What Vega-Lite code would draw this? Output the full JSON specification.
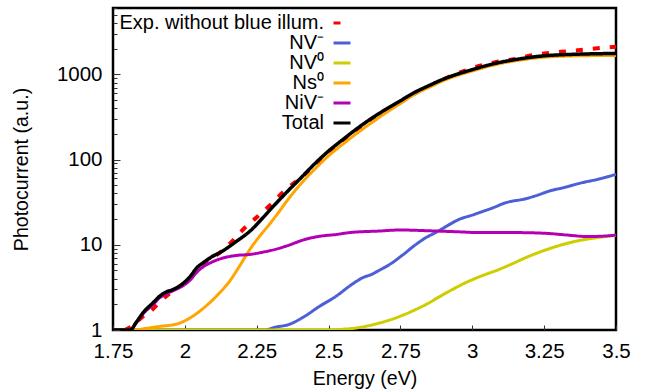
{
  "$schema": "https://vega.github.io/schema/vega-lite/v6.json",
  "width": 503,
  "height": 322,
  "autosize": {"type": "none"},
  "padding": {"left": 113, "top": 8, "right": 30, "bottom": 61},
  "background": "white",
  "config": {
    "view": {"stroke": "black", "strokeWidth": 2.5},
    "font": "Liberation Sans",
    "axis": {
      "labelFont": "Liberation Sans",
      "labelFontSize": 20.5,
      "labelColor": "black",
      "titleFont": "Liberation Sans",
      "titleFontSize": 19.6,
      "titleFontWeight": "normal",
      "titleColor": "black",
      "domain": false,
      "grid": false,
      "tickColor": "#333333",
      "tickWidth": 1,
      "labelFlush": false,
      "labelOverlap": false
    },
    "legend": {
      "labelFont": "Liberation Sans",
      "labelFontSize": 20,
      "labelColor": "black"
    }
  },
  "data": {
    "values": [
      {"s": "Exp. without blue illum.", "E": 1.79, "v": 1},
      {"s": "Exp. without blue illum.", "E": 1.81, "v": 1.08},
      {"s": "Exp. without blue illum.", "E": 1.83, "v": 1.22},
      {"s": "Exp. without blue illum.", "E": 1.85, "v": 1.4},
      {"s": "Exp. without blue illum.", "E": 1.88, "v": 1.65},
      {"s": "Exp. without blue illum.", "E": 1.92, "v": 2.25},
      {"s": "Exp. without blue illum.", "E": 1.96, "v": 2.9},
      {"s": "Exp. without blue illum.", "E": 2.0, "v": 3.6},
      {"s": "Exp. without blue illum.", "E": 2.04, "v": 5.0},
      {"s": "Exp. without blue illum.", "E": 2.08, "v": 6.6},
      {"s": "Exp. without blue illum.", "E": 2.12, "v": 8.0},
      {"s": "Exp. without blue illum.", "E": 2.16, "v": 10.6},
      {"s": "Exp. without blue illum.", "E": 2.2, "v": 14.8},
      {"s": "Exp. without blue illum.", "E": 2.25, "v": 21},
      {"s": "Exp. without blue illum.", "E": 2.3, "v": 30},
      {"s": "Exp. without blue illum.", "E": 2.35, "v": 44},
      {"s": "Exp. without blue illum.", "E": 2.4, "v": 60},
      {"s": "Exp. without blue illum.", "E": 2.45, "v": 83},
      {"s": "Exp. without blue illum.", "E": 2.5, "v": 118},
      {"s": "Exp. without blue illum.", "E": 2.55, "v": 160},
      {"s": "Exp. without blue illum.", "E": 2.6, "v": 212},
      {"s": "Exp. without blue illum.", "E": 2.65, "v": 278},
      {"s": "Exp. without blue illum.", "E": 2.7, "v": 365},
      {"s": "Exp. without blue illum.", "E": 2.75, "v": 470},
      {"s": "Exp. without blue illum.", "E": 2.8, "v": 595},
      {"s": "Exp. without blue illum.", "E": 2.85, "v": 725},
      {"s": "Exp. without blue illum.", "E": 2.9, "v": 875},
      {"s": "Exp. without blue illum.", "E": 2.96, "v": 1059},
      {"s": "Exp. without blue illum.", "E": 3.02, "v": 1244},
      {"s": "Exp. without blue illum.", "E": 3.08, "v": 1387},
      {"s": "Exp. without blue illum.", "E": 3.15, "v": 1515},
      {"s": "Exp. without blue illum.", "E": 3.21, "v": 1675},
      {"s": "Exp. without blue illum.", "E": 3.27, "v": 1786},
      {"s": "Exp. without blue illum.", "E": 3.33, "v": 1864},
      {"s": "Exp. without blue illum.", "E": 3.39, "v": 1953},
      {"s": "Exp. without blue illum.", "E": 3.45, "v": 2045},
      {"s": "Exp. without blue illum.", "E": 3.5, "v": 2110},

      {"s": "NV⁻", "E": 1.75, "v": 1},
      {"s": "NV⁻", "E": 2.28, "v": 1},
      {"s": "NV⁻", "E": 2.31, "v": 1.07},
      {"s": "NV⁻", "E": 2.365, "v": 1.17},
      {"s": "NV⁻", "E": 2.41, "v": 1.4},
      {"s": "NV⁻", "E": 2.47, "v": 1.91},
      {"s": "NV⁻", "E": 2.527, "v": 2.5},
      {"s": "NV⁻", "E": 2.573, "v": 3.28},
      {"s": "NV⁻", "E": 2.619, "v": 4.11},
      {"s": "NV⁻", "E": 2.65, "v": 4.5},
      {"s": "NV⁻", "E": 2.68, "v": 5.1},
      {"s": "NV⁻", "E": 2.71, "v": 5.8},
      {"s": "NV⁻", "E": 2.758, "v": 7.6},
      {"s": "NV⁻", "E": 2.804, "v": 10.1},
      {"s": "NV⁻", "E": 2.84, "v": 12.2},
      {"s": "NV⁻", "E": 2.873, "v": 13.9},
      {"s": "NV⁻", "E": 2.91, "v": 16.5},
      {"s": "NV⁻", "E": 2.955, "v": 19.9},
      {"s": "NV⁻", "E": 3.0, "v": 22.3},
      {"s": "NV⁻", "E": 3.024, "v": 23.8},
      {"s": "NV⁻", "E": 3.07, "v": 27},
      {"s": "NV⁻", "E": 3.117, "v": 31.2},
      {"s": "NV⁻", "E": 3.186, "v": 34.7},
      {"s": "NV⁻", "E": 3.23, "v": 38.5},
      {"s": "NV⁻", "E": 3.267, "v": 42.6},
      {"s": "NV⁻", "E": 3.32, "v": 47},
      {"s": "NV⁻", "E": 3.372, "v": 52.5},
      {"s": "NV⁻", "E": 3.44, "v": 59},
      {"s": "NV⁻", "E": 3.5, "v": 67},

      {"s": "NV⁰", "E": 1.75, "v": 1},
      {"s": "NV⁰", "E": 2.5, "v": 1},
      {"s": "NV⁰", "E": 2.55, "v": 1.02},
      {"s": "NV⁰", "E": 2.6, "v": 1.06},
      {"s": "NV⁰", "E": 2.642, "v": 1.13},
      {"s": "NV⁰", "E": 2.7, "v": 1.27},
      {"s": "NV⁰", "E": 2.758, "v": 1.49},
      {"s": "NV⁰", "E": 2.8, "v": 1.72},
      {"s": "NV⁰", "E": 2.84, "v": 2.0},
      {"s": "NV⁰", "E": 2.885, "v": 2.45},
      {"s": "NV⁰", "E": 2.932, "v": 3.0},
      {"s": "NV⁰", "E": 2.97, "v": 3.5},
      {"s": "NV⁰", "E": 3.024, "v": 4.2},
      {"s": "NV⁰", "E": 3.094, "v": 5.15},
      {"s": "NV⁰", "E": 3.14, "v": 6.0},
      {"s": "NV⁰", "E": 3.186, "v": 7.06},
      {"s": "NV⁰", "E": 3.23, "v": 8.1},
      {"s": "NV⁰", "E": 3.279, "v": 9.25},
      {"s": "NV⁰", "E": 3.33, "v": 10.4},
      {"s": "NV⁰", "E": 3.383, "v": 11.4},
      {"s": "NV⁰", "E": 3.44, "v": 12.2},
      {"s": "NV⁰", "E": 3.5, "v": 12.9},

      {"s": "Ns⁰", "E": 1.75, "v": 1},
      {"s": "Ns⁰", "E": 1.82, "v": 1},
      {"s": "Ns⁰", "E": 1.87, "v": 1.05},
      {"s": "Ns⁰", "E": 1.91, "v": 1.1},
      {"s": "Ns⁰", "E": 1.97, "v": 1.17},
      {"s": "Ns⁰", "E": 2.02, "v": 1.4},
      {"s": "Ns⁰", "E": 2.06, "v": 1.75},
      {"s": "Ns⁰", "E": 2.11, "v": 2.5},
      {"s": "Ns⁰", "E": 2.156, "v": 3.75},
      {"s": "Ns⁰", "E": 2.19, "v": 5.6},
      {"s": "Ns⁰", "E": 2.226, "v": 8.8},
      {"s": "Ns⁰", "E": 2.26, "v": 12.6},
      {"s": "Ns⁰", "E": 2.295, "v": 17.5},
      {"s": "Ns⁰", "E": 2.324, "v": 23.5},
      {"s": "Ns⁰", "E": 2.353, "v": 32},
      {"s": "Ns⁰", "E": 2.41, "v": 55},
      {"s": "Ns⁰", "E": 2.45, "v": 76},
      {"s": "Ns⁰", "E": 2.503, "v": 113},
      {"s": "Ns⁰", "E": 2.55, "v": 152},
      {"s": "Ns⁰", "E": 2.6, "v": 205},
      {"s": "Ns⁰", "E": 2.65, "v": 272},
      {"s": "Ns⁰", "E": 2.7, "v": 355},
      {"s": "Ns⁰", "E": 2.75, "v": 455},
      {"s": "Ns⁰", "E": 2.8, "v": 585},
      {"s": "Ns⁰", "E": 2.85, "v": 705},
      {"s": "Ns⁰", "E": 2.9, "v": 845},
      {"s": "Ns⁰", "E": 2.95, "v": 975},
      {"s": "Ns⁰", "E": 3.0, "v": 1095},
      {"s": "Ns⁰", "E": 3.05, "v": 1225},
      {"s": "Ns⁰", "E": 3.1, "v": 1345},
      {"s": "Ns⁰", "E": 3.15, "v": 1440},
      {"s": "Ns⁰", "E": 3.2, "v": 1525},
      {"s": "Ns⁰", "E": 3.25, "v": 1590},
      {"s": "Ns⁰", "E": 3.3, "v": 1625},
      {"s": "Ns⁰", "E": 3.35, "v": 1645},
      {"s": "Ns⁰", "E": 3.4, "v": 1655},
      {"s": "Ns⁰", "E": 3.45, "v": 1662},
      {"s": "Ns⁰", "E": 3.5, "v": 1665},

      {"s": "NiV⁻", "E": 1.75, "v": 1},
      {"s": "NiV⁻", "E": 1.81, "v": 1},
      {"s": "NiV⁻", "E": 1.83, "v": 1.2},
      {"s": "NiV⁻", "E": 1.855, "v": 1.55},
      {"s": "NiV⁻", "E": 1.89, "v": 2.0},
      {"s": "NiV⁻", "E": 1.913, "v": 2.4},
      {"s": "NiV⁻", "E": 1.93, "v": 2.6},
      {"s": "NiV⁻", "E": 1.96, "v": 2.9},
      {"s": "NiV⁻", "E": 1.99, "v": 3.25},
      {"s": "NiV⁻", "E": 2.02, "v": 3.9},
      {"s": "NiV⁻", "E": 2.04, "v": 4.7},
      {"s": "NiV⁻", "E": 2.06, "v": 5.4},
      {"s": "NiV⁻", "E": 2.087, "v": 6.1},
      {"s": "NiV⁻", "E": 2.133, "v": 7.0},
      {"s": "NiV⁻", "E": 2.18, "v": 7.5},
      {"s": "NiV⁻", "E": 2.226, "v": 7.7},
      {"s": "NiV⁻", "E": 2.272, "v": 8.2},
      {"s": "NiV⁻", "E": 2.324, "v": 9.0},
      {"s": "NiV⁻", "E": 2.353, "v": 9.66},
      {"s": "NiV⁻", "E": 2.42, "v": 11.6},
      {"s": "NiV⁻", "E": 2.47, "v": 12.6},
      {"s": "NiV⁻", "E": 2.527, "v": 13.2},
      {"s": "NiV⁻", "E": 2.573, "v": 13.9},
      {"s": "NiV⁻", "E": 2.677, "v": 14.5},
      {"s": "NiV⁻", "E": 2.747, "v": 14.9},
      {"s": "NiV⁻", "E": 2.873, "v": 14.5},
      {"s": "NiV⁻", "E": 2.95, "v": 14.2},
      {"s": "NiV⁻", "E": 3.024, "v": 13.9},
      {"s": "NiV⁻", "E": 3.15, "v": 13.9},
      {"s": "NiV⁻", "E": 3.26, "v": 13.6},
      {"s": "NiV⁻", "E": 3.33, "v": 13.0},
      {"s": "NiV⁻", "E": 3.4, "v": 12.5},
      {"s": "NiV⁻", "E": 3.45, "v": 12.6},
      {"s": "NiV⁻", "E": 3.5, "v": 13.0},

      {"s": "Total", "E": 1.75, "v": 1},
      {"s": "Total", "E": 1.81, "v": 1},
      {"s": "Total", "E": 1.83, "v": 1.22},
      {"s": "Total", "E": 1.855, "v": 1.6},
      {"s": "Total", "E": 1.89, "v": 2.1},
      {"s": "Total", "E": 1.913, "v": 2.5},
      {"s": "Total", "E": 1.93, "v": 2.74},
      {"s": "Total", "E": 1.96, "v": 3.0},
      {"s": "Total", "E": 1.99, "v": 3.43},
      {"s": "Total", "E": 2.02, "v": 4.3},
      {"s": "Total", "E": 2.04, "v": 5.3},
      {"s": "Total", "E": 2.065, "v": 6.2},
      {"s": "Total", "E": 2.09, "v": 7.1},
      {"s": "Total", "E": 2.13, "v": 8.4},
      {"s": "Total", "E": 2.18, "v": 11},
      {"s": "Total", "E": 2.23, "v": 14.8},
      {"s": "Total", "E": 2.27, "v": 20.5},
      {"s": "Total", "E": 2.3, "v": 26.5},
      {"s": "Total", "E": 2.35, "v": 40},
      {"s": "Total", "E": 2.41, "v": 64},
      {"s": "Total", "E": 2.45, "v": 88},
      {"s": "Total", "E": 2.5, "v": 126},
      {"s": "Total", "E": 2.55, "v": 172},
      {"s": "Total", "E": 2.6, "v": 232},
      {"s": "Total", "E": 2.65, "v": 305},
      {"s": "Total", "E": 2.7, "v": 390},
      {"s": "Total", "E": 2.75, "v": 490},
      {"s": "Total", "E": 2.8, "v": 615},
      {"s": "Total", "E": 2.85, "v": 740},
      {"s": "Total", "E": 2.9, "v": 880},
      {"s": "Total", "E": 2.95, "v": 1010},
      {"s": "Total", "E": 3.0, "v": 1135},
      {"s": "Total", "E": 3.05, "v": 1270},
      {"s": "Total", "E": 3.1, "v": 1390},
      {"s": "Total", "E": 3.15, "v": 1490},
      {"s": "Total", "E": 3.2, "v": 1580},
      {"s": "Total", "E": 3.25, "v": 1650},
      {"s": "Total", "E": 3.3, "v": 1690},
      {"s": "Total", "E": 3.35, "v": 1715},
      {"s": "Total", "E": 3.4, "v": 1735},
      {"s": "Total", "E": 3.45, "v": 1748},
      {"s": "Total", "E": 3.5, "v": 1755}
    ]
  },
  "encoding": {
    "x": {
      "field": "E",
      "type": "quantitative",
      "scale": {"domain": [1.75, 3.5], "nice": false, "zero": false},
      "axis": {
        "title": "Energy (eV)",
        "values": [1.75, 2, 2.25, 2.5, 2.75, 3, 3.25, 3.5],
        "format": ".3~g",
        "tickSize": -5,
        "labelPadding": 16,
        "titlePadding": 8
      }
    },
    "y": {
      "field": "v",
      "type": "quantitative",
      "scale": {"type": "log", "domain": [1, 6000], "nice": false},
      "axis": {
        "title": "Photocurrent (a.u.)",
        "values": [1, 2, 3, 4, 5, 6, 7, 8, 9, 10, 20, 30, 40, 50, 60, 70, 80, 90, 100, 200, 300, 400, 500, 600, 700, 800, 900, 1000, 2000, 3000, 4000, 5000, 6000],
        "format": "d",
        "labelExpr": "indexof([1, 10, 100, 1000], datum.value) >= 0 ? datum.label : ''",
        "tickSize": {"condition": {"test": "indexof([1, 10, 100, 1000], datum.value) >= 0", "value": -7}, "value": -4},
        "labelPadding": 18,
        "titlePadding": 25
      }
    },
    "color": {
      "field": "s",
      "type": "nominal",
      "scale": {
        "domain": ["Exp. without blue illum.", "NV⁻", "NV⁰", "Ns⁰", "NiV⁻", "Total"],
        "range": ["#ff0000", "#4c5fd7", "#cdcd00", "#ffa500", "#b400b4", "#000000"]
      },
      "legend": {
        "title": null,
        "orient": "none",
        "legendX": 219,
        "legendY": 5,
        "symbolType": "stroke",
        "symbolSize": 289,
        "symbolStrokeWidth": 3,
        "labelAlign": "right",
        "labelOffset": -28,
        "rowPadding": 0,
        "labelLimit": 400
      }
    },
    "strokeDash": {
      "field": "s",
      "type": "nominal",
      "scale": {
        "domain": ["Exp. without blue illum.", "NV⁻", "NV⁰", "Ns⁰", "NiV⁻", "Total"],
        "range": [[7, 10], [1, 0], [1, 0], [1, 0], [1, 0], [1, 0]]
      },
      "legend": {
        "title": null,
        "orient": "none",
        "legendX": 219,
        "legendY": 5,
        "symbolType": "stroke",
        "symbolSize": 289,
        "symbolStrokeWidth": 3,
        "labelAlign": "right",
        "labelOffset": -28,
        "rowPadding": 0,
        "labelLimit": 400
      }
    }
  },
  "layer": [
    {
      "transform": [{"filter": "datum.s === 'Exp. without blue illum.'"}],
      "mark": {"type": "line", "strokeWidth": 4, "interpolate": "monotone", "clip": true}
    },
    {
      "transform": [{"filter": "datum.s !== 'Exp. without blue illum.' && datum.s !== 'Total'"}],
      "mark": {"type": "line", "strokeWidth": 3, "interpolate": "monotone", "clip": true}
    },
    {
      "transform": [{"filter": "datum.s === 'Total'"}],
      "mark": {"type": "line", "strokeWidth": 3.5, "interpolate": "monotone", "clip": true}
    }
  ]
}
